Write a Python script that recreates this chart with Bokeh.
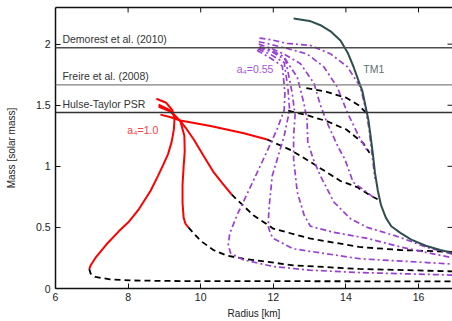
from bokeh.plotting import figure
from bokeh.models import Span, Label, LinearAxis, FixedTicker, Range1d
from bokeh.embed import file_html
from bokeh.resources import INLINE

# ---------------- data ----------------
x_ticks = [6, 8, 10, 12, 14, 16]
y_ticks = [0, 0.5, 1, 1.5, 2]

obs_masses = [1.97, 1.667, 1.44]
obs_labels = ["Demorest et al. (2010)", "Freire et al. (2008)", "Hulse-Taylor PSR"]
obs_colors = ["#4d4d4d", "#808080", "#333333"]

# TM1
tm1_r = [12.56, 13.0, 13.3, 13.6, 13.85, 14.05, 14.21, 14.35, 14.45, 14.55, 14.62, 14.68,
         14.74, 14.8, 14.88, 14.97, 15.1, 15.25, 15.5, 15.8, 16.2, 16.6, 16.95]
tm1_m = [2.21, 2.19, 2.155, 2.10, 2.03, 1.93, 1.815, 1.70, 1.62, 1.48, 1.38, 1.25,
         1.11, 0.95, 0.80, 0.68, 0.58, 0.51, 0.455, 0.40, 0.35, 0.315, 0.29]

# a4 = 1.0 family (solid red part)
red1_r = [8.78, 9.05, 9.22, 9.28, 9.26, 9.2, 9.1, 8.98, 8.82, 8.62, 8.3, 8.0, 7.75, 7.4, 7.1, 6.97, 6.93]
red1_m = [1.553, 1.52, 1.46, 1.39, 1.30, 1.20, 1.10, 1.02, 0.92, 0.80, 0.65, 0.54, 0.47, 0.36, 0.25, 0.19, 0.16]
red2_r = [8.84, 9.15, 9.44, 9.55, 9.56, 9.53, 9.5, 9.5, 9.53, 9.58, 9.66]
red2_m = [1.504, 1.46, 1.37, 1.25, 1.12, 1.0, 0.85, 0.7, 0.58, 0.53, 0.50]
red3_r = [8.89, 9.2, 9.44, 10.27, 11.19, 11.83]
red3_m = [1.423, 1.40, 1.375, 1.33, 1.27, 1.22]
red4_r = [8.84, 9.15, 9.44, 9.6, 9.81, 10.09, 10.36, 10.6, 10.85]
red4_m = [1.49, 1.45, 1.37, 1.31, 1.22, 1.08, 0.95, 0.86, 0.77]

# black dashed branches
bd1_r = [6.93, 6.97, 7.1, 7.5, 8.07, 9.0, 10.0, 12.0, 16.95]
bd1_m = [0.16, 0.12, 0.095, 0.075, 0.066, 0.062, 0.06, 0.06, 0.058]
bd2_r = [9.66, 10.0, 10.35, 10.71, 11.17, 12.55, 14.37, 16.95]
bd2_m = [0.50, 0.39, 0.315, 0.27, 0.244, 0.19, 0.16, 0.14]
bd3_r = [11.83, 12.5, 13.0, 13.48, 13.85, 14.31, 14.68, 14.88]
bd3_m = [1.22, 1.13, 1.04, 0.95, 0.88, 0.83, 0.76, 0.73]
bd4_r = [10.85, 11.45, 12.0, 13.0, 14.37, 15.5, 16.95]
bd4_m = [0.77, 0.60, 0.49, 0.41, 0.34, 0.315, 0.30]
bd5_r = [12.91, 13.47, 14.02, 14.35, 14.52, 14.6]
bd5_m = [1.64, 1.61, 1.56, 1.50, 1.45, 1.40]
bd6_r = [12.41, 12.91, 13.47, 14.02, 14.48, 14.65]
bd6_m = [1.455, 1.42, 1.37, 1.30, 1.19, 1.11]

# a4 = 0.55 family
p1_r = [11.62, 11.95, 12.38, 13.02, 13.58, 14.04, 14.4, 14.56, 14.64, 14.72, 14.8]
p1_m = [2.05, 2.035, 2.006, 1.99, 1.92, 1.815, 1.65, 1.45, 1.3, 1.1, 0.9]
p2_r = [11.6, 11.9, 12.38, 12.93, 13.39, 13.76, 14.04, 14.35, 14.6]
p2_m = [2.02, 2.0, 1.965, 1.92, 1.815, 1.65, 1.44, 1.25, 1.12]
p3_r = [11.6, 11.9, 12.29, 12.75, 13.12, 13.3, 13.45, 13.6, 13.8, 13.97, 14.2, 14.57, 14.78]
p3_m = [2.0, 1.97, 1.92, 1.84, 1.68, 1.5, 1.38, 1.28, 1.15, 1.06, 0.87, 0.79, 0.74]
p4_r = [11.62, 11.95, 12.28, 12.66, 12.84, 12.93, 12.95, 13.1, 13.3, 13.58, 13.66, 14.13,
        14.59, 15.1, 15.48, 16.2, 16.95]
p4_m = [1.98, 1.95, 1.9, 1.73, 1.52, 1.38, 1.2, 1.06, 0.92, 0.76, 0.71, 0.57,
        0.50, 0.455, 0.42, 0.34, 0.28]
p5_r = [11.6, 11.95, 12.34, 12.52, 12.6, 12.56, 12.56, 12.66, 12.85, 13.02, 13.66, 14.6, 15.5, 16.95]
p5_m = [1.97, 1.94, 1.87, 1.6, 1.42, 1.25, 1.06, 0.79, 0.6, 0.51, 0.46, 0.41, 0.34, 0.25]
p6_r = [11.58, 11.9, 12.3, 12.4, 12.45, 12.3, 11.97, 11.88, 11.86, 11.92, 12.0, 12.55, 14.37, 16.95]
p6_m = [1.96, 1.92, 1.85, 1.65, 1.46, 1.25, 0.92, 0.65, 0.51, 0.45, 0.41, 0.325, 0.244, 0.2]
p7_r = [11.55, 11.85, 12.25, 12.32, 12.3, 12.1, 11.73, 11.32, 11.0, 10.8, 10.76, 10.82,
        11.17, 12.0, 13.0, 14.4, 16.95]
p7_m = [1.95, 1.9, 1.82, 1.6, 1.46, 1.3, 1.06, 0.8, 0.6, 0.45, 0.36, 0.29,
        0.235, 0.18, 0.15, 0.13, 0.11]

red_curves = [(red1_r, red1_m), (red2_r, red2_m), (red3_r, red3_m), (red4_r, red4_m)]
dashed_curves = [(bd1_r, bd1_m), (bd2_r, bd2_m), (bd3_r, bd3_m), (bd4_r, bd4_m),
                 (bd5_r, bd5_m), (bd6_r, bd6_m)]
purple_curves = [(p1_r, p1_m), (p2_r, p2_m), (p3_r, p3_m), (p4_r, p4_m),
                 (p5_r, p5_m), (p6_r, p6_m), (p7_r, p7_m)]

# ---------------- style ----------------
FONT = "Liberation Sans"
RED = "#ff0000"
PURPLE = "#9b3fd4"
TM1C = "#2f4f4f"
AXC = "#111111"

W, H = 452, 321
B_LEFT, B_RIGHT, B_TOP, B_BOTTOM = 55, 0, 7, 31
X0, X1 = 6, 16.937
Y0, Y1 = 0, 2.30
TICK_PX = 5
px_per_x = (W - B_LEFT - B_RIGHT) / (X1 - X0)
px_per_y = (H - B_TOP - B_BOTTOM) / (Y1 - Y0)

p = figure(width=W, height=H, x_range=Range1d(X0, X1), y_range=Range1d(Y0, Y1),
           output_backend="svg", toolbar_location=None,
           min_border_left=B_LEFT, min_border_right=B_RIGHT,
           min_border_top=B_TOP, min_border_bottom=B_BOTTOM,
           x_axis_label="Radius [km]", y_axis_label="Mass [solar mass]")
p.outline_line_color = None
p.grid.visible = False
p.background_fill_color = "white"
p.border_fill_color = "white"

for ax in (p.xaxis[0], p.yaxis[0]):
    ax.major_tick_in = TICK_PX
    ax.major_tick_out = 0
    ax.minor_tick_line_color = None
    ax.axis_line_width = 1.5
    ax.axis_line_color = AXC
    ax.major_tick_line_color = AXC
    ax.major_label_text_font = FONT
    ax.major_label_text_font_size = "10.5px"
    ax.major_label_text_color = "#222222"
    ax.axis_label_text_font = FONT
    ax.axis_label_text_font_size = "10px"
    ax.axis_label_text_font_style = "normal"
    ax.axis_label_text_color = "#222222"

p.xaxis[0].ticker = FixedTicker(ticks=x_ticks)
p.yaxis[0].ticker = FixedTicker(ticks=y_ticks)
p.xaxis[0].major_label_standoff = 4
p.xaxis[0].axis_label_standoff = 4
p.yaxis[0].major_label_standoff = 5
p.yaxis[0].axis_label_standoff = 16

# top frame line (no labels, no ticks of its own)
top = LinearAxis(ticker=FixedTicker(ticks=[]), major_tick_in=0, major_tick_out=0,
                 minor_tick_line_color=None, major_label_standoff=0,
                 axis_line_width=1.5, axis_line_color=AXC)
p.add_layout(top, "above")

# mirrored inward ticks on top and right
n_x, n_y = len(x_ticks), len(y_ticks)
p.segment(x0=x_ticks, y0=[Y1] * n_x, x1=x_ticks, y1=[Y1 - TICK_PX / px_per_y] * n_x,
          line_color=AXC, line_width=1)
p.segment(x0=[X1] * n_y, y0=y_ticks, x1=[X1 - TICK_PX / px_per_x] * n_y, y1=y_ticks,
          line_color=AXC, line_width=1)

for m, lab, c in zip(obs_masses, obs_labels, obs_colors):
    p.add_layout(Span(location=m, dimension="width", line_color=c, line_width=1.4))
    p.add_layout(Label(x=6.19, y=m, text=lab, y_offset=3, text_baseline="bottom",
                       text_font=FONT, text_font_size="10.5px", text_color="#333333"))

for r, m in dashed_curves:
    p.line(r, m, line_color="black", line_width=1.8, line_dash="6 4")
for r, m in red_curves:
    p.line(r, m, line_color=RED, line_width=2)
for r, m in purple_curves:
    p.line(r, m, line_color=PURPLE, line_width=1.7, line_dash="6 3 2 3")
p.line(tm1_r, tm1_m, line_color=TM1C, line_width=2)

p.add_layout(Label(x=7.98, y=1.30, text="a₄=1.0", text_baseline="middle",
                   text_font=FONT, text_font_size="10.5px", text_color="#ff3b3b"))
p.add_layout(Label(x=10.99, y=1.797, text="a₄=0.55", text_baseline="middle",
                   text_font=FONT, text_font_size="10.5px", text_color="#a855d8"))
p.add_layout(Label(x=14.48, y=1.797, text="TM1", text_baseline="middle",
                   text_font=FONT, text_font_size="10.5px", text_color="#5f6f6f"))

open("out.html", "w").write(file_html(p, INLINE))
